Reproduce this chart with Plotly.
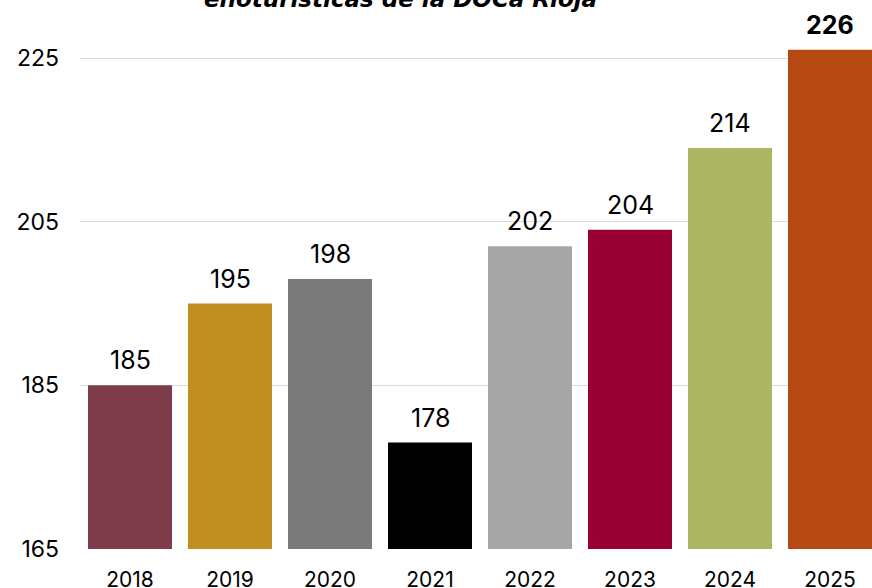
import plotly.graph_objects as go

# Visitas enoturísticas DOCa Rioja (miles)
years = ["2018", "2019", "2020", "2021", "2022", "2023", "2024", "2025"]
visits = [185, 195, 198, 178, 202, 204, 214, 226]
bar_colors = ["#7E3B4A", "#BF8F1F", "#7A7A7A", "#000000",
              "#A6A6A6", "#990033", "#ABB562", "#B54911"]
y_ticks = [165, 185, 205, 225]

FONT = "Inter, Open Sans, sans-serif"
TITLE_FONT = "DejaVu Sans, sans-serif"

fig = go.Figure(
    go.Bar(
        x=years,
        y=[v - 165 for v in visits],
        base=165,
        marker=dict(color=bar_colors, line=dict(width=0)),
        width=0.84,
        hoverinfo="skip",
    )
)

# value labels above each bar; the last one in bold
for i, v in enumerate(visits):
    last = i == len(visits) - 1
    fig.add_annotation(
        x=i, y=v, xref="x", yref="y",
        text=f"<b>{v}</b>" if last else str(v),
        showarrow=False, yanchor="bottom", yshift=8,
        font=dict(family=FONT, size=25, color="#000000"),
    )

# chart title (second line)
fig.add_annotation(
    x=0.405, y=1, xref="paper", yref="paper",
    text="<b><i>enoturísticas de la DOCa Rioja</i></b>",
    showarrow=False, yanchor="bottom", yshift=27,
    font=dict(family=TITLE_FONT, size=23, color="#000000"),
)

fig.update_layout(
    width=872, height=588,
    margin=dict(l=80, r=0, t=41, b=39, autoexpand=False),
    paper_bgcolor="white", plot_bgcolor="white",
    showlegend=False,
    font=dict(family=FONT, size=22, color="#000000"),
    xaxis=dict(
        type="category", range=[-0.5, 7.42], automargin=False,
        showgrid=False, showline=False, zeroline=False,
        ticks="", ticklabelstandoff=16,
        tickfont=dict(family=FONT, size=21, color="#000000"),
    ),
    yaxis=dict(
        range=[165, 165 + 508 / 8.183], automargin=False,
        tickvals=y_ticks,
        showgrid=True, gridcolor="#D9D9D9", gridwidth=1,
        zeroline=False, showline=False, ticks="",
        ticklabelstandoff=20,
        tickfont=dict(family=FONT, size=23, color="#000000"),
    ),
)

fig.write_html("out.html")
